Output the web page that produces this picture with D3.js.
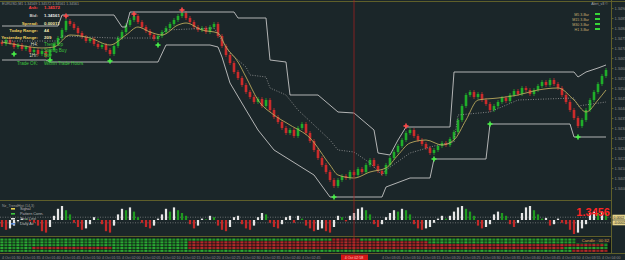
<!DOCTYPE html>
<html>
<head>
<meta charset="utf-8">
<script src="https://cdn.jsdelivr.net/npm/d3@7"></script>
<style>
  html, body { margin: 0; padding: 0; background: #1b2629; }
  svg { display: block; font-family: "Liberation Sans", Arial, sans-serif; }
</style>
</head>
<body>
<svg id="chart" width="625" height="260"></svg>
<script>
// ---- data ----
const firstOpen = 1.3473;
const closes = [
  1.3472, 1.3474, 1.34725, 1.34705, 1.34715, 1.34695, 1.34705, 1.3468, 1.3469, 1.3467,
  1.34685, 1.3466, 1.3469, 1.3472, 1.3475, 1.3479, 1.34835, 1.3482, 1.348, 1.34775,
  1.34755, 1.34735, 1.34745, 1.3472, 1.34705, 1.34715, 1.3469, 1.3467, 1.3471, 1.3475,
  1.3478, 1.34815, 1.3484, 1.3486, 1.3483, 1.34805, 1.34785, 1.34765, 1.34745, 1.3476,
  1.3478, 1.348, 1.3482, 1.3484, 1.3486, 1.34875, 1.3485, 1.3483, 1.34805, 1.3479,
  1.348, 1.3478, 1.34805, 1.3482, 1.3476, 1.3471, 1.34665, 1.34625, 1.3458, 1.3455,
  1.34515, 1.3448, 1.34455, 1.3443, 1.34445, 1.3441, 1.3444, 1.3439, 1.34355, 1.3433,
  1.343, 1.34275, 1.3429, 1.3426, 1.343, 1.3432, 1.34275, 1.34235, 1.3419, 1.3415,
  1.34115, 1.3408, 1.3404, 1.3401, 1.3404, 1.3406, 1.3405, 1.3408, 1.34065, 1.34095,
  1.3408, 1.34115, 1.3414, 1.3411, 1.34085, 1.3407, 1.34115, 1.3415, 1.3418, 1.3421,
  1.3424, 1.34275, 1.3429, 1.3426, 1.3424, 1.3422, 1.342, 1.34175, 1.3419, 1.3421,
  1.34225, 1.34215, 1.34245, 1.3428, 1.3434, 1.3441, 1.34465, 1.3448, 1.34455, 1.3447,
  1.3444, 1.3442, 1.3439, 1.3441, 1.3443, 1.3445, 1.34435, 1.34465, 1.34485, 1.3447,
  1.345, 1.3449, 1.3447, 1.3449, 1.3451, 1.3453, 1.34515, 1.3454, 1.3452, 1.345,
  1.34465, 1.3443, 1.3439, 1.3435, 1.3431, 1.3434, 1.3439, 1.3444, 1.3448, 1.3452,
  1.3456, 1.3459
];

// channel lines: [bar index, price]
const upperLine = [
  [0, 1.3481], [14, 1.3481], [15, 1.34865], [28, 1.34865], [30, 1.34805], [31, 1.34805],
  [32, 1.3488], [58, 1.3488], [59, 1.3485], [66, 1.3485], [67, 1.3464], [71, 1.3463],
  [72, 1.34465], [79, 1.34465], [84, 1.3438], [88, 1.34375], [93, 1.3429], [94, 1.34175],
  [97, 1.34165], [99, 1.3424], [101, 1.34305], [112, 1.34305], [113, 1.3458], [143, 1.3458],
  [144, 1.34555], [146, 1.3458], [149, 1.346], [151, 1.34615]
];
const lowerLine = [
  [0, 1.3464], [11, 1.3464], [12, 1.3463], [39, 1.3463], [41, 1.34715], [52, 1.34715],
  [54, 1.34705], [55, 1.34655], [57, 1.34525], [61, 1.3439], [64, 1.3429], [68, 1.3419],
  [74, 1.34115], [78, 1.34065], [82, 1.33955], [95, 1.33955], [96, 1.34005], [102, 1.3405],
  [107, 1.3405], [108, 1.34145], [121, 1.34145], [122, 1.3432], [142, 1.3432],
  [143, 1.34255], [151, 1.34255]
];
const midLine = [
  [0, 1.34735], [14, 1.34735], [15, 1.3476], [28, 1.3475], [39, 1.3475], [41, 1.3479],
  [53, 1.348], [57, 1.34675], [61, 1.34605], [62, 1.34565], [66, 1.34555], [67, 1.345],
  [71, 1.34465], [74, 1.3439], [82, 1.3424], [84, 1.3419], [88, 1.3418], [92, 1.34125],
  [95, 1.34065], [96, 1.3409], [102, 1.34175], [108, 1.3421], [113, 1.3423], [114, 1.34365],
  [122, 1.3438], [129, 1.3444], [143, 1.3445], [144, 1.3441], [151, 1.3443]
];
const maLine = [
  [0, 1.3473], [4, 1.34715], [10, 1.347], [13, 1.34705], [17, 1.34765], [22, 1.3475],
  [27, 1.34715], [31, 1.34765], [34, 1.34805], [37, 1.3478], [40, 1.34765], [44, 1.34815],
  [46, 1.34825], [50, 1.3479], [54, 1.34775], [56, 1.34705], [59, 1.3463], [61, 1.34555],
  [64, 1.3444], [68, 1.34365], [72, 1.34315], [77, 1.3425], [82, 1.34115], [84, 1.34065],
  [88, 1.3405], [92, 1.3408], [96, 1.341], [99, 1.34165], [102, 1.34225], [106, 1.3424],
  [110, 1.34215], [113, 1.3424], [116, 1.3434], [119, 1.3444], [124, 1.3445], [129, 1.34465],
  [134, 1.3449], [139, 1.345], [143, 1.3444], [146, 1.3438], [149, 1.3444], [151, 1.3449]
];

// reversal markers: [bar index, price]
const sellMarks = [[16, 1.3486], [33, 1.3487], [45, 1.3489], [101, 1.3431]];
const buyMarks = [
  [3, 1.3467], [12, 1.3464], [27, 1.34635], [39, 1.34715], [83, 1.33955],
  [108, 1.34145], [122, 1.3432], [144, 1.34255]
];

const priceTicks = [
  1.3400, 1.3405, 1.3410, 1.3415, 1.3420, 1.3425, 1.3430, 1.3435, 1.3440, 1.3445,
  1.3450, 1.3455, 1.3460, 1.3465, 1.3470, 1.3475, 1.3480, 1.3485, 1.3490
];

// lower histogram
const hist = [
  -0.5, -0.7, -0.6, -0.4, -0.1, 0.1, 0.05, -0.1, -0.2, -0.4,
  -0.8, -0.9, -0.5, 0.3, 0.8, 1.0, 0.7, 0.4, -0.2, -0.5,
  -0.7, -0.6, -0.3, 0.2, 0.1, -0.3, -0.8, -0.9, -0.4, 0.4,
  0.8, 0.7, 0.9, 0.6, 0.2, -0.2, -0.5, -0.6, -0.4, 0.1,
  0.4, 0.8, 0.6, 0.9, 0.7, 0.5, 0.3, -0.3, -0.6, -0.4,
  0.1, 0.05, 0.3, 0.2, -0.4, -0.7, -0.8, -0.5, 0.2, 0.3,
  -0.3, -0.6, -0.7, -0.4, 0.2, 0.5, 0.4, -0.2, -0.5, -0.6,
  -0.3, 0.2, 0.3, -0.2, 0.3, 0.1, -0.4, -0.6, -0.8, -0.7,
  -0.6, -0.8, -0.9, -0.5, 0.3, 0.2, -0.1, 0.3, 0.5, 0.8,
  0.9, 0.7, 0.4, -0.3, -0.5, -0.3, 0.2, 0.5, 0.7, 0.6,
  0.8, 0.7, 0.4, -0.3, -0.6, -0.7, -0.6, -0.5, -0.2, 0.1,
  0.3, 0.1, 0.3, 0.6, 0.9, 1.0, 0.8, 0.6, 0.3, -0.4,
  -0.6, -0.5, -0.3, 0.4, 0.6, 0.5, 0.3, -0.3, -0.5, -0.2,
  0.5, 0.9, 1.0, 0.7, 0.4, 0.1, 0.15, -0.4, -0.3, 0.1,
  -0.2, -0.3, -0.7, -1.0, -0.9, -0.6, -0.3, 0.5, 0.6, 0.5,
  0.6, 0.5
];

// signal strip rows: [from bar, to bar, state] (1 = green, 0 = red)
const stripRows = [
  [[0, 82, 1], [83, 89, 0], [90, 151, 1]],
  [[0, 46, 1], [47, 106, 0], [107, 151, 1]],
  [[0, 46, 1], [47, 150, 0], [151, 151, 1]],
  [[0, 7, 1], [8, 27, 0], [28, 46, 1], [47, 140, 0], [141, 151, 1]],
  [[0, 142, 1], [143, 151, 0]]
];

const timeLabels = [
  "4 Oct 01:30", "4 Oct 01:35", "4 Oct 01:40", "4 Oct 01:45", "4 Oct 01:50", "4 Oct 01:55",
  "4 Oct 02:00", "4 Oct 02:05", "4 Oct 02:10", "4 Oct 02:15", "4 Oct 02:20", "4 Oct 02:25",
  "4 Oct 02:30", "4 Oct 02:35", "4 Oct 02:40", "4 Oct 02:45", "4 Oct 02:50", "4 Oct 02:55",
  "4 Oct 03:00", "4 Oct 03:05", "4 Oct 03:10", "4 Oct 03:15", "4 Oct 03:20", "4 Oct 03:25",
  "4 Oct 03:30", "4 Oct 03:35", "4 Oct 03:40", "4 Oct 03:45", "4 Oct 03:50", "4 Oct 03:55",
  "4 Oct 04:00"
];
const labelEvery = 5;
const cursorBar = 88;
const cursorLabel = "4 Oct 02:58";

const infoRows = [
  ["Ask:", "1.34572"], ["Bid:", "1.34561"], ["Spread:", "0.00011"],
  ["Today Range:", "44"], ["Yesterday Range:", "209"]
];
const trendRows = [
  ["H4:", "Trend Up"], ["", "Strong Buy"], ["1Hr:", "Buy"], ["Trade OK:", "Within Trade Hours"]
];
const alertRows = ["M5 3-Bar", "M15 3-Bar", "M30 3-Bar", "H1 3-Bar"];
const legendRows = ["Signal", "Pattern Conn.", "Zero Line", "Daily Av"];
const histLevel = 0.2;
const bigQuote = "1.3456";
const candleTimer = "Candle : 00:32";

// ---- drawing ----
const svg = d3.select("#chart");
const W = 625, H = 260, plotRight = 611.5;
const frame = "#5f5f2a";
const up = "#1fae2a", down = "#cc2b2b";

svg.append("rect").attr("width", W).attr("height", H).attr("fill", "#1b2629");

const x = d3.scaleLinear().domain([0, closes.length - 1]).range([2, 606]);
const y = d3.scaleLinear().domain([1.3398, 1.3492]).range([192, 4]);
const yH = d3.scaleLinear().domain([-1, 1]).range([234, 206]);

const bars = closes.map((c, i) => ({ i, o: i === 0 ? firstOpen : closes[i - 1], c }));

// main panel
const main = svg.append("g");

main.append("g").selectAll("line").data(bars).enter().append("line")
  .attr("x1", d => x(d.i)).attr("x2", d => x(d.i))
  .attr("y1", d => y(Math.max(d.o, d.c)) - 2)
  .attr("y2", d => y(Math.min(d.o, d.c)) + 2)
  .attr("stroke", d => d.c >= d.o ? up : down)
  .attr("stroke-width", 0.8);

main.append("g").selectAll("rect").data(bars).enter().append("rect")
  .attr("x", d => x(d.i) - 1.3)
  .attr("width", 2.6)
  .attr("y", d => y(Math.max(d.o, d.c)))
  .attr("height", d => Math.max(1, Math.abs(y(d.o) - y(d.c))))
  .attr("fill", d => d.c >= d.o ? up : down);

const pathOf = (curve) => d3.line().x(d => x(d[0])).y(d => y(d[1])).curve(curve);

main.append("path").datum(midLine)
  .attr("fill", "none").attr("stroke", "#9a9a9a").attr("stroke-width", 0.8)
  .attr("stroke-dasharray", "1,1.5").attr("d", pathOf(d3.curveLinear));

main.append("path").datum(maLine)
  .attr("fill", "none").attr("stroke", "#b9a85c").attr("stroke-width", 0.9)
  .attr("d", pathOf(d3.curveMonotoneX));

[upperLine, lowerLine].forEach(ln => {
  main.append("path").datum(ln)
    .attr("fill", "none").attr("stroke", "#c4c4c4").attr("stroke-width", 0.9)
    .attr("d", pathOf(d3.curveLinear));
});

const plus = (g, data, color) => {
  const m = g.append("g").selectAll("g").data(data).enter().append("g")
    .attr("transform", d => `translate(${x(d[0])},${y(d[1])})`);
  m.append("rect").attr("x", -2.5).attr("y", -0.8).attr("width", 5).attr("height", 1.6).attr("fill", color);
  m.append("rect").attr("x", -0.8).attr("y", -2.5).attr("width", 1.6).attr("height", 5).attr("fill", color);
};
plus(main, sellMarks, "#ff4a4a");
plus(main, buyMarks, "#48f048");

// info text, top-left
svg.append("text").attr("x", 2).attr("y", 4.5)
  .attr("font-size", 3.6).attr("fill", "#9a9a9a")
  .text("EURUSD,M1  1.34569 1.34572 1.34561 1.34561");

const infoLabelColor = ["#ff4040", "#c8c8c8", "#f0d060", "#f0d060", "#f0d060"];
const infoValueColor = ["#ff4040", "#e6e6e6", "#f3eab0", "#f3eab0", "#f3eab0"];
const infoY = [9, 17, 25, 32, 38.5];
infoRows.forEach((r, k) => {
  svg.append("text").attr("x", 38).attr("y", infoY[k]).attr("text-anchor", "end")
    .attr("font-size", 4.4).attr("font-weight", "bold").attr("fill", infoLabelColor[k]).text(r[0]);
  svg.append("text").attr("x", 44).attr("y", infoY[k])
    .attr("font-size", 4.4).attr("font-weight", "bold").attr("fill", infoValueColor[k]).text(r[1]);
});
const trendY = [46, 51.5, 57, 65];
trendRows.forEach((r, k) => {
  svg.append("text").attr("x", 38).attr("y", trendY[k]).attr("text-anchor", "end")
    .attr("font-size", 4.6).attr("fill", k === 3 ? "#3cc43c" : "#d8d8c0").text(r[0]);
  svg.append("text").attr("x", 44).attr("y", trendY[k])
    .attr("font-size", 4.6).attr("fill", "#3cc43c").text(r[1]);
});

// alert box, top-right
svg.append("text").attr("x", 608).attr("y", 5).attr("text-anchor", "end")
  .attr("font-size", 3.6).attr("fill", "#a8a8a8").text("Alert_v3 \u00a9");
alertRows.forEach((t, k) => {
  svg.append("text").attr("x", 589).attr("y", 15.5 + k * 5).attr("text-anchor", "end")
    .attr("font-size", 3.6).attr("fill", "#c8b070").text(t);
  svg.append("rect").attr("x", 595).attr("y", 13 + k * 5).attr("width", 5).attr("height", 2)
    .attr("fill", "#37d437");
});

// indicator panel
const ind = svg.append("g");
[histLevel, -histLevel].forEach(v => {
  ind.append("line").attr("x1", 0).attr("x2", plotRight).attr("y1", yH(v)).attr("y2", yH(v))
    .attr("stroke", "#a0a0a0").attr("stroke-width", 0.6).attr("stroke-dasharray", "1,1.5");
});
ind.append("g").selectAll("rect").data(hist).enter().append("rect")
  .attr("x", (d, i) => x(i) - 1.1).attr("width", 2.2)
  .attr("y", d => d >= 0 ? yH(d) : yH(0))
  .attr("height", d => Math.abs(yH(d) - yH(0)))
  .attr("fill", (d, i) => {
    const p = i === 0 ? 0 : hist[i - 1];
    if (d >= 0) return d > p ? "#e6e6e6" : "#1f9a1f";
    return d < p ? "#c42828" : "#e6e6e6";
  });

ind.append("text").attr("x", 2).attr("y", 206.5).attr("font-size", 3.6).attr("fill", "#9a9a9a")
  .text("Nz_TrendHist (14,3)");
const legendColor = ["#e8d050", "#3cc43c", "#e6e6e6", "#5a8ad8"];
legendRows.forEach((t, k) => {
  ind.append("rect").attr("x", 11).attr("y", 208 + k * 5).attr("width", 4).attr("height", 1.6)
    .attr("fill", legendColor[k]);
  ind.append("text").attr("x", 20).attr("y", 210 + k * 5).attr("font-size", 3.8)
    .attr("fill", "#b8b8b8").text(t);
});
ind.append("text").attr("x", 610).attr("y", 216).attr("text-anchor", "end")
  .attr("font-size", 11).attr("font-weight", "bold").attr("fill", "#ff2424").text(bigQuote);

// signal strip
const strip = svg.append("g");
strip.append("rect").attr("x", 0).attr("y", 237.5).attr("width", plotRight).attr("height", 15)
  .attr("fill", "#0f1416");
stripRows.forEach((row, r) => {
  const cells = [];
  row.forEach(s => { for (let i = s[0]; i <= s[1]; i++) cells.push({ i, s: s[2] }); });
  strip.append("g").selectAll("rect").data(cells).enter().append("rect")
    .attr("x", d => x(d.i) - 1.7).attr("width", 3.2)
    .attr("y", 238.5 + r * 2.8).attr("height", 2.2)
    .attr("fill", d => d.s ? (d.i % 2 ? "#23902a" : "#2aa832") : (d.i % 2 ? "#9c2222" : "#b42a2a"));
});
strip.append("rect").attr("x", 576).attr("y", 238).attr("width", 34).attr("height", 5).attr("fill", "#1b2629");
strip.append("text").attr("x", 609).attr("y", 242).attr("text-anchor", "end")
  .attr("font-size", 4.2).attr("fill", "#e0a040").text(candleTimer);

// frame lines
const frameLines = [[0, 1.5, W, 1.5], [0, 200.5, plotRight, 200.5], [0, 236.5, plotRight, 236.5],
  [0, 253.5, W, 253.5], [plotRight, 0, plotRight, 253.5]];
frameLines.forEach(l => {
  svg.append("line").attr("x1", l[0]).attr("y1", l[1]).attr("x2", l[2]).attr("y2", l[3])
    .attr("stroke", frame).attr("stroke-width", 1);
});

// cursor line
svg.append("line").attr("x1", x(cursorBar)).attr("x2", x(cursorBar)).attr("y1", 0).attr("y2", 253)
  .attr("stroke", "#b02020").attr("stroke-width", 0.7);

// price axis
const pAxis = svg.append("g").attr("transform", `translate(${plotRight},0)`)
  .call(d3.axisRight(y).tickValues(priceTicks).tickFormat(d3.format(".4f")).tickSize(2));
pAxis.select(".domain").remove();
pAxis.selectAll("line").attr("stroke", frame);
pAxis.selectAll("text").attr("x", 3).attr("font-size", 3.8).attr("fill", "#8e8e8e")
  .attr("font-family", "Liberation Sans, Arial, sans-serif");

// right tags on the indicator panel
[[yH(histLevel), "0.0002"], [yH(-histLevel), "-0.0002"]].forEach(t => {
  svg.append("rect").attr("x", plotRight + 1).attr("y", t[0] - 2.5).attr("width", 13).attr("height", 5)
    .attr("fill", "#e6d48a");
  svg.append("text").attr("x", plotRight + 2).attr("y", t[0] + 1.3).attr("font-size", 3.5)
    .attr("fill", "#222").text(t[1]);
});

// time axis (labels hidden under the cursor tag are skipped)
const tAxis = svg.append("g");
const cursorX = x(cursorBar);
timeLabels.forEach((t, k) => {
  const lx = x(k * labelEvery);
  if (lx > cursorX - 33 && lx < cursorX + 14) return;
  tAxis.append("text").attr("x", lx).attr("y", 258.5)
    .attr("font-size", 3.6).attr("fill", "#8e8e8e").text(t);
});
tAxis.append("rect").attr("x", cursorX - 13).attr("y", 254.5).attr("width", 27).attr("height", 5.5)
  .attr("fill", "#d41616");
tAxis.append("text").attr("x", cursorX).attr("y", 258.7).attr("text-anchor", "middle")
  .attr("font-size", 3.6).attr("fill", "#ffd0d0").text(cursorLabel);
</script>
</body>
</html>
